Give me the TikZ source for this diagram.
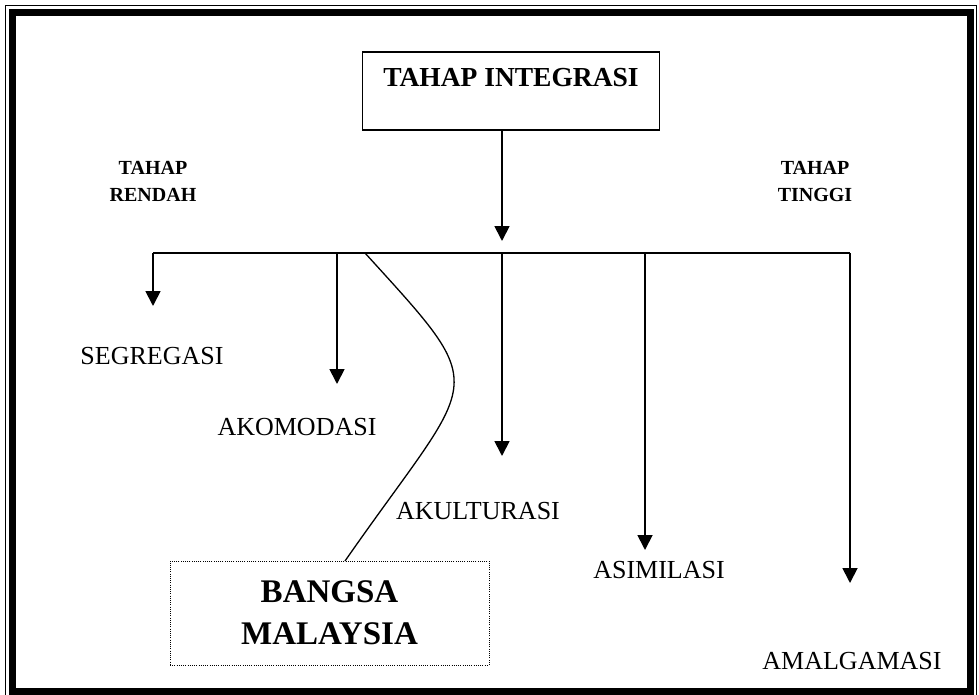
\documentclass[tikz,border=0pt]{standalone}
\usepackage{fontspec}
\setmainfont{Liberation Serif}
\usetikzlibrary{arrows.meta}
\begin{document}
\begin{tikzpicture}[x=1pt,y=-1pt,
  conn/.style={line width=1.8pt},
  arr/.style={conn,-{Triangle[length=15pt,width=15pt]}},
  lbl/.style={font=\fontsize{26}{30}\selectfont, inner sep=0pt},
  side/.style={font=\bfseries\fontsize{20}{27}\selectfont, align=center, inner sep=0pt},
  boxtxt/.style={font=\bfseries\fontsize{27.5}{30}\selectfont, inner sep=0pt}]
\useasboundingbox (0,0) rectangle (979,695);
% page border
\draw[line width=1pt] (5.5,5.5) rectangle (976,698);
\draw[line width=7pt] (12.5,13) rectangle (970,691.5);
% top box
\node[draw, line width=1.3pt, minimum width=297pt, minimum height=78pt, inner sep=0pt] (top) at (511,91) {};
\node[boxtxt] (toptxt) at (511,78) {TAHAP INTEGRASI};
% side labels
\node[side] (rendah) at (153,181) {TAHAP\\RENDAH};
\node[side] (tinggi) at (815,181) {TAHAP\\TINGGI};
% hub
\coordinate (t0) at (502,241);
\coordinate (barL) at (153,253);
\coordinate (barR) at (850,253);
\draw[arr] (top.south -| t0) -- (t0);
\draw[conn] (barL) -- (barR);
% branch tips
\coordinate (t1) at (153,306);
\coordinate (t2) at (337,384);
\coordinate (t3) at (502,456);
\coordinate (t4) at (645,550);
\coordinate (t5) at (850,583);
\draw[arr] (barL) -- (t1);
\draw[arr] (t2 |- barL) -- (t2);
\draw[arr] (t3 |- barL) -- (t3);
\draw[arr] (t4 |- barL) -- (t4);
\draw[arr] (barR) -- (t5);
% labels
\node[lbl] (seg) at (152,356) {SEGREGASI};
\node[lbl] (ako) at (297,427) {AKOMODASI};
\node[lbl] (aku) at (478,511) {AKULTURASI};
\node[lbl] (asi) at (659,570) {ASIMILASI};
\node[lbl] (ama) at (852,661) {AMALGAMASI};
% bangsa malaysia
\node[draw, line width=1pt, dash pattern=on 1pt off 1.2pt, minimum width=319pt, minimum height=104pt, inner sep=0pt,
  font=\bfseries\fontsize{33}{42}\selectfont, align=center] (bm) at (329.5,613) {BANGSA\\MALAYSIA};
\coordinate (cstart) at (365,253);
\coordinate (cend) at (345,561);
\draw[line width=1.3pt] (cstart) .. controls (495,396) and (478,370) .. (cend);
\end{tikzpicture}
\end{document}
